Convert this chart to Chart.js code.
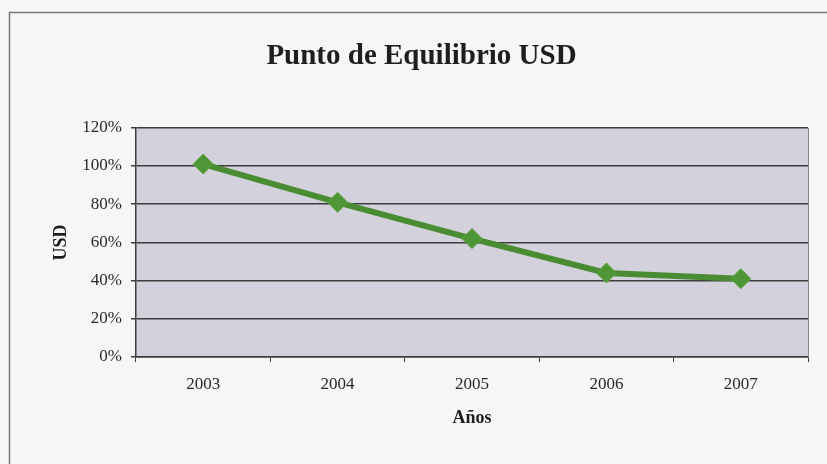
<!DOCTYPE html>
<html>
<head>
<meta charset="utf-8">
<title>Punto de Equilibrio USD</title>
<script src="https://cdn.jsdelivr.net/npm/chart.js@4"></script>
<style>
  html, body { margin: 0; padding: 0; background: #f6f5f7; }
  #wrap { width: 827px; height: 464px; }
</style>
</head>
<body>
<div id="wrap"><canvas id="equilibrioChart" width="827" height="464"></canvas></div>
<script>
// Data
const years = ['2003', '2004', '2005', '2006', '2007'];
const breakEven = [101, 81, 62, 44, 41];
const yTicks = [0, 20, 40, 60, 80, 100, 120];

const serif = "'Liberation Serif', 'Times New Roman', serif";

// Frame around the chart and plot area fill
const framePlugin = {
  id: 'frame',
  beforeDraw(chart) {
    const { ctx, chartArea: a } = chart;
    ctx.save();
    ctx.fillStyle = '#f6f5f7';
    ctx.fillRect(0, 0, chart.width, chart.height);
    ctx.strokeStyle = '#7a7a7a';
    ctx.lineWidth = 1.5;
    ctx.beginPath();
    ctx.moveTo(9.5, chart.height + 2);
    ctx.lineTo(9.5, 12.5);
    ctx.lineTo(chart.width + 2, 12.5);
    ctx.stroke();
    ctx.fillStyle = '#d3d1db';
    ctx.fillRect(a.left, a.top, a.right - a.left, a.bottom - a.top);
    ctx.restore();
  },
  afterDatasetsDraw(chart) {
    const { ctx, chartArea: a } = chart;
    ctx.save();
    ctx.strokeStyle = '#8a8a8a';
    ctx.lineWidth = 1;
    ctx.beginPath();
    ctx.moveTo(a.right + 0.5, a.top);
    ctx.lineTo(a.right + 0.5, a.bottom);
    ctx.stroke();
    ctx.restore();
  }
};

const ctx = document.getElementById('equilibrioChart').getContext('2d');
const chart = new Chart(ctx, {
  type: 'line',
  data: {
    labels: years,
    datasets: [
      {
        label: 'Punto de Equilibrio',
        data: breakEven,
        borderColor: '#4a8c33',
        backgroundColor: '#4f9636',
        borderWidth: 6,
        pointStyle: 'rectRot',
        pointRadius: 10,
        pointBorderWidth: 1,
        pointBorderColor: '#5aa53e',
        tension: 0,
        fill: false,
      },
    ],
  },
  options: {
    responsive: false,
    animation: false,
    layout: { padding: { left: 35, right: 19, top: 0, bottom: 0 } },
    plugins: {
      legend: { display: false },
      tooltip: { enabled: false },
      title: {
        display: true,
        text: 'Punto de Equilibrio USD',
        color: '#1e1e1e',
        font: { family: serif, size: 29, weight: 'bold', lineHeight: 1.2 },
        padding: { top: 39, bottom: 54 },
      },
    },
    scales: {
      x: {
        offset: true,
        afterFit(scale) { scale.height = 107; },
        grid: {
          offset: true,
          drawOnChartArea: false,
          drawTicks: true,
          tickLength: 5,
          color: '#3c3c3c',
        },
        border: { color: '#3c3c3c', width: 1.5 },
        ticks: {
          color: '#2a2a2a',
          padding: 12,
          font: { family: serif, size: 17 },
        },
        title: {
          display: true,
          text: 'Años',
          color: '#1e1e1e',
          font: { family: serif, size: 18, weight: 'bold', lineHeight: 1.2 },
          padding: { top: 0, bottom: 35 },
        },
      },
      y: {
        min: 0,
        max: 120,
        afterFit(scale) { scale.width = 101; },
        afterBuildTicks(scale) {
          scale.ticks = yTicks.map((v) => ({ value: v }));
        },
        grid: {
          color: '#3c3c3c',
          lineWidth: 1.5,
          tickLength: 5,
        },
        border: { color: '#3c3c3c', width: 1.5 },
        ticks: {
          color: '#2a2a2a',
          padding: 9,
          font: { family: serif, size: 17 },
          callback: (v) => v + '%',
        },
        title: {
          display: true,
          text: 'USD',
          color: '#1e1e1e',
          font: { family: serif, size: 18, weight: 'bold', lineHeight: 1.2 },
          padding: { top: 16, bottom: 0 },
        },
      },
    },
  },
  plugins: [framePlugin],
});
</script>
</body>
</html>
